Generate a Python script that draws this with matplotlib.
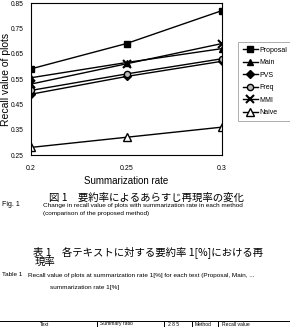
import matplotlib
matplotlib.use("Agg")
import matplotlib.pyplot as plt
from matplotlib import font_manager as fm

rates = [0.2, 0.25, 0.3]
series_names = ["Proposal", "Main", "PVS", "Freq", "MMI", "Naive"]
proposal = [0.59, 0.69, 0.82]
main = [0.555, 0.615, 0.67]
pvs = [0.49, 0.56, 0.62]
freq = [0.505, 0.57, 0.63]
mmi = [0.53, 0.61, 0.69]
naive = [0.28, 0.32, 0.36]
yticks = [0.25, 0.35, 0.45, 0.55, 0.65, 0.75, 0.85]
xticks = [0.2, 0.25, 0.3]

names = {f.name for f in fm.fontManager.ttflist}
narrow = "Liberation Sans Narrow" if "Liberation Sans Narrow" in names else "Liberation Sans"
plt.rcParams['font.family'] = ['Liberation Sans', 'Noto Sans CJK JP', 'DejaVu Sans']

W, H = 290, 327
fig = plt.figure(figsize=(W/100, H/100), dpi=100)
ax = fig.add_axes([31/W, 1-155/H, (222-31)/W, (155-3)/H])

styles = [
    dict(marker='s', mfc='black', ms=5),
    dict(marker='^', mfc='black', ms=5),
    dict(marker='D', mfc='black', ms=4),
    dict(marker='o', mfc='#bbbbbb', ms=4.5),
    dict(marker='x', mfc='black', ms=6, mew=1.5),
    dict(marker='^', mfc='white', ms=6),
]
data = [proposal, main, pvs, freq, mmi, naive]
handles = []
for name, vals, st in zip(series_names, data, styles):
    h, = ax.plot(rates, vals, color='black', lw=1.0, mec='black', label=name, **st)
    handles.append(h)

ax.set_xlim(0.2, 0.3)
ax.set_ylim(0.25, 0.85)
ax.set_xticks(xticks)
ax.set_xticklabels(["0.2", "0.25", "0.3"], fontsize=5, family=narrow)
ax.set_yticks(yticks)
ax.set_yticklabels([f"{v:.2f}" for v in yticks], fontsize=4.8, family=narrow)
ax.tick_params(axis='x', length=0, pad=7)
ax.tick_params(axis='y', length=0, pad=5)
for sp in ax.spines.values():
    sp.set_linewidth(0.8)
ax.set_xlabel("Summarization rate", fontsize=7, labelpad=3)
ax.set_ylabel("Recall value of plots", fontsize=7.5)
ax.yaxis.set_label_coords(-20/191, 0.5)

leg = fig.legend(handles=handles, loc='upper left', bbox_to_anchor=(235/W, 1-39/H),
                 fontsize=5, frameon=True, fancybox=False, edgecolor='#888888',
                 handlelength=2.2, handletextpad=0.2, borderpad=0.6, labelspacing=0.8)
leg.get_frame().set_linewidth(0.6)
for t in leg.get_texts():
    t.set_family(narrow)

def T(x, y, s, size=7, ha='left', va='center', **kw):
    fig.text(x/W, 1-y/H, s, fontsize=size, ha=ha, va=va, **kw)

cjk = ['Noto Sans CJK JP', 'DejaVu Sans']
T(146, 198, "図 1　要約率によるあらすじ再現率の変化", size=7.5, ha='center', family=cjk)
T(2, 205, "Fig. 1", size=5, family=narrow)
T(43, 205, "Change in recall value of plots with summarization rate in each method", size=4.6, family=narrow)
T(43, 213, "(comparison of the proposed method)", size=4.6, family=narrow)
T(33, 252, "表 1　各テキストに対する要約率 1[%]における再", size=7.5, family=cjk)
T(35, 262, "現率", size=7.5, family=cjk)
T(2, 275, "Table 1", size=4.6, family=narrow)
T(28, 275, "Recall value of plots at summarization rate 1[%] for each text (Proposal, Main, ...", size=4.6, family=narrow)
T(50, 287, "summarization rate 1[%]", size=4.6, family=narrow)

fig.add_artist(plt.Line2D([0, 1], [1-321/H, 1-321/H], color='black', lw=0.7))
for xv in [97, 164, 192, 218]:
    fig.add_artist(plt.Line2D([xv/W, xv/W], [0, 1-321/H], color='black', lw=0.7))
for x, s in [(40, "Text"), (100, "Summary ratio"), (168, "2 8 5"), (195, "Method"), (222, "Recall value")]:
    T(x, 321.5, s, size=3.6, va='top', family=narrow)

fig.savefig("out.png", dpi=100)
